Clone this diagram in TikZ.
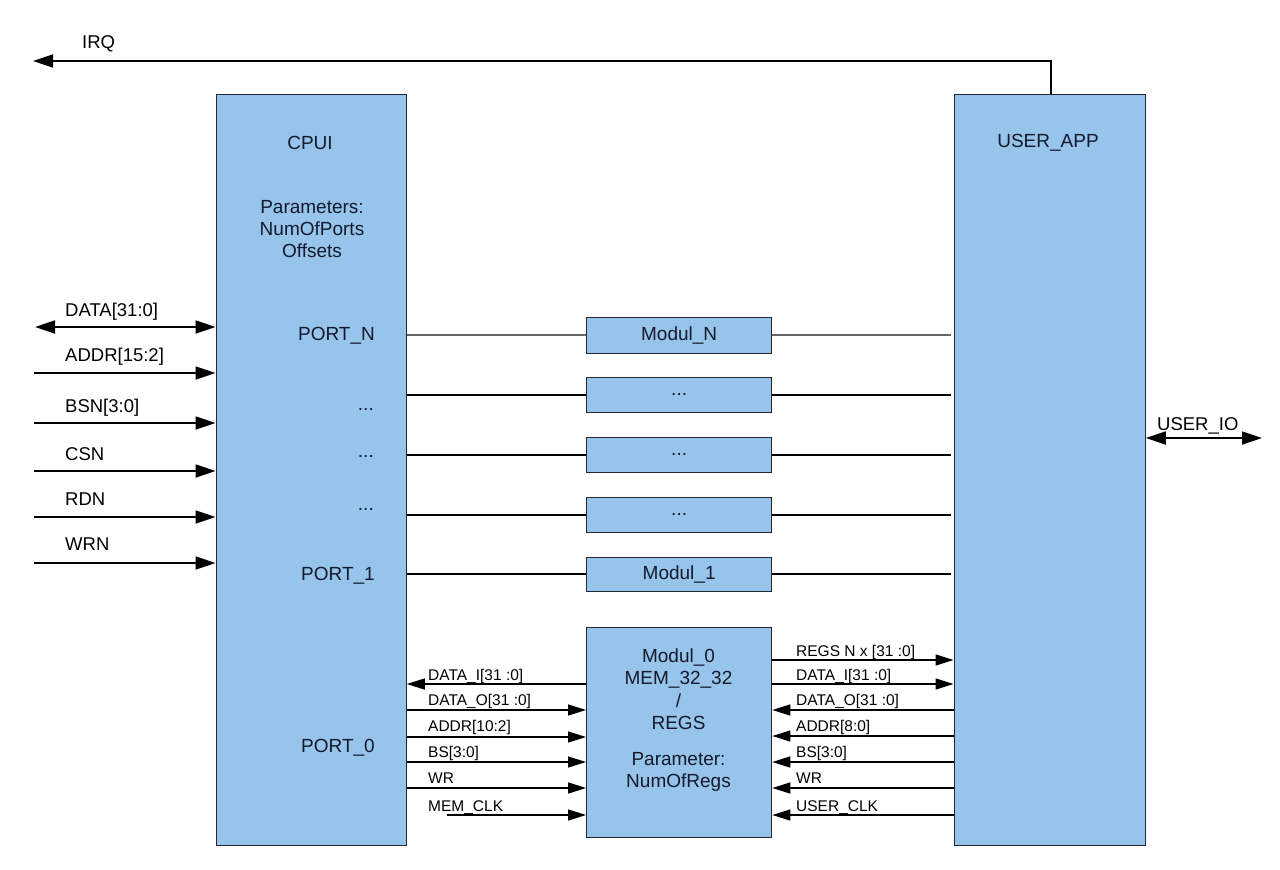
\documentclass[tikz,border=0pt]{standalone}
\usepackage{fontspec}
\setmainfont{Liberation Sans}
\usetikzlibrary{arrows.meta}
\definecolor{boxblue}{RGB}{151,196,234}
\definecolor{edgecol}{RGB}{35,40,50}
\definecolor{txtcol}{RGB}{20,25,45}
\begin{document}
\begin{tikzpicture}[x=1pt,y=-1pt,
  box/.style={draw=edgecol, line width=1.3pt, fill=boxblue, inner sep=0pt, anchor=north west},
  big/.style={font=\fontsize{19}{22}\selectfont, text=txtcol, inner sep=0pt},
  lbl/.style={font=\fontsize{18.5}{21}\selectfont, text=black, inner sep=0pt, anchor=base west},
  small/.style={font=\fontsize{15.5}{18}\selectfont, text=black, inner sep=0pt, anchor=base west},
  wire/.style={line width=1.8pt, draw=black},
  sigR/.style={line width=1.8pt, -{Triangle[length=20pt,width=13pt]}},
  sigB/.style={line width=1.8pt, {Triangle[length=20pt,width=13pt]}-{Triangle[length=20pt,width=13pt]}},
  sm/.style={line width=1.5pt, -{Triangle[length=18pt,width=11pt]}},
]
\useasboundingbox (0,0) rectangle (1280,870);

% main boxes
\node[box, minimum width=190pt, minimum height=751pt] (cpu) at (215.5,93.5) {};
\node[box, minimum width=191pt, minimum height=751pt] (app) at (953.5,93.5) {};
\node[box, minimum width=185pt, minimum height=36pt] (modN) at (586,316.5) {};
\node[box, minimum width=185pt, minimum height=35pt] (modA) at (586,376.5) {};
\node[box, minimum width=185pt, minimum height=35pt] (modB) at (586,436.5) {};
\node[box, minimum width=185pt, minimum height=35pt] (modC) at (586,496.5) {};
\node[box, minimum width=185pt, minimum height=34pt] (mod1) at (586,556.5) {};
\node[box, minimum width=185pt, minimum height=210pt] (mod0) at (586,627) {};

% texts in boxes
\node[big] (tcpu) at (310,143) {CPUI};
\node[big, align=center] (tpar) at (312,229) {Parameters:\\NumOfPorts\\Offsets};
\node[big, anchor=base east] (pN) at (375,340) {PORT\_N};
\node[big, anchor=base east] (d1) at (374,410) {...};
\node[big, anchor=base east] (d2) at (374,457) {...};
\node[big, anchor=base east] (d3) at (374,510) {...};
\node[big, anchor=base east] (p1) at (375,580) {PORT\_1};
\node[big, anchor=base east] (p0) at (375,752) {PORT\_0};
\node[big] (tapp) at (1048,143) {USER\_APP};
\node[big] at (modN.center) (tmN) {Modul\_N};
\node[big] at (modA.center) (tmA) {...};
\node[big] at (modB.center) (tmB) {...};
\node[big] at (modC.center) (tmC) {...};
\node[big] at (mod1.center) (tm1) {Modul\_1};
\node[big, align=center, font=\fontsize{19}{22.5}\selectfont] (tm0) at (678.5,720) {Modul\_0\\MEM\_32\_32\\/\\REGS\\[0.7em]Parameter:\\NumOfRegs};

% module lines
\draw[wire, draw=gray!80!black, line width=1.5pt] (cpu.east |- modN.west) -- (modN.west);
\draw[wire, draw=gray!80!black, line width=1.5pt] (modN.east) -- ([xshift=-3pt]app.west |- modN.east);
\foreach \m in {modA,modB,modC,mod1}{
  \draw[wire] (cpu.east |- \m.west) -- (\m.west);
  \draw[wire] (\m.east) -- ([xshift=-3pt]app.west |- \m.east);
}

% IRQ
\coordinate (irqT) at (1051,61);
\coordinate (irqE) at (33,61);
\draw[wire, line width=1.5pt, -{Triangle[length=20pt,width=13pt]}] (app.north -| irqT) -- (irqT) -- (irqE);
\node[lbl] (lirq) at (82,48) {IRQ};

% left bus signals
\coordinate (cData) at (35,327);
\coordinate (cAddr) at (34,373);
\coordinate (cBsn) at (34,423);
\coordinate (cCsn) at (34,471);
\coordinate (cRdn) at (34,517);
\coordinate (cWrn) at (34,563);
\draw[sigB] (cData) -- (cpu.west |- cData);
\draw[sigR] (cAddr) -- (cpu.west |- cAddr);
\draw[sigR] (cBsn) -- (cpu.west |- cBsn);
\draw[sigR] (cCsn) -- (cpu.west |- cCsn);
\draw[sigR] (cRdn) -- (cpu.west |- cRdn);
\draw[sigR] (cWrn) -- (cpu.west |- cWrn);
\node[lbl] (lData) at (65,316) {DATA[31:0]};
\node[lbl] (lAddr) at (65,361) {ADDR[15:2]};
\node[lbl] (lBsn) at (65,412) {BSN[3:0]};
\node[lbl] (lCsn) at (65,460) {CSN};
\node[lbl] (lRdn) at (65,505) {RDN};
\node[lbl] (lWrn) at (65,550) {WRN};

% USER_IO
\coordinate (cIO) at (1262,438);
\draw[sigB] (app.east |- cIO) -- (cIO);
\node[lbl] (lIO) at (1157,430) {USER\_IO};

% Modul_0 left side
\coordinate (yDI) at (0,684);
\coordinate (yDO) at (0,710);
\coordinate (yAD) at (0,737);
\coordinate (yBS) at (0,762);
\coordinate (yWR) at (0,788);
\coordinate (yMC) at (447,815);
\draw[sm] (mod0.west |- yDI) -- (cpu.east |- yDI);
\draw[sm] (cpu.east |- yDO) -- (mod0.west |- yDO);
\draw[sm] (cpu.east |- yAD) -- (mod0.west |- yAD);
\draw[sm] (cpu.east |- yBS) -- (mod0.west |- yBS);
\draw[sm] (cpu.east |- yWR) -- (mod0.west |- yWR);
\draw[sm] (yMC) -- (mod0.west |- yMC);
\node[small] (a1) at (428,680) {DATA\_I[31 :0]};
\node[small] (a2) at (428,705) {DATA\_O[31 :0]};
\node[small] (a3) at (428,731) {ADDR[10:2]};
\node[small] (a4) at (428,757) {BS[3:0]};
\node[small] (a5) at (428,783) {WR};
\node[small] (a6) at (428,811) {MEM\_CLK};

% Modul_0 right side
\coordinate (yRG) at (0,660);
\coordinate (yDI2) at (0,684);
\coordinate (yDO2) at (0,710);
\coordinate (yAD2) at (0,736);
\coordinate (yBS2) at (0,762);
\coordinate (yWR2) at (0,788);
\coordinate (yUC) at (0,815);
\draw[sm] (mod0.east |- yRG) -- (app.west |- yRG);
\draw[sm] (mod0.east |- yDI2) -- (app.west |- yDI2);
\draw[sm] (app.west |- yDO2) -- (mod0.east |- yDO2);
\draw[sm] (app.west |- yAD2) -- (mod0.east |- yAD2);
\draw[sm] (app.west |- yBS2) -- (mod0.east |- yBS2);
\draw[sm] (app.west |- yWR2) -- (mod0.east |- yWR2);
\draw[sm] (app.west |- yUC) -- (mod0.east |- yUC);
\node[small] (b1) at (796,656) {REGS N x [31 :0]};
\node[small] (b2) at (796,680) {DATA\_I[31 :0]};
\node[small] (b3) at (796,705) {DATA\_O[31 :0]};
\node[small] (b4) at (796,731) {ADDR[8:0]};
\node[small] (b5) at (796,757) {BS[3:0]};
\node[small] (b6) at (796,783) {WR};
\node[small] (b7) at (796,811) {USER\_CLK};
\end{tikzpicture}
\end{document}
